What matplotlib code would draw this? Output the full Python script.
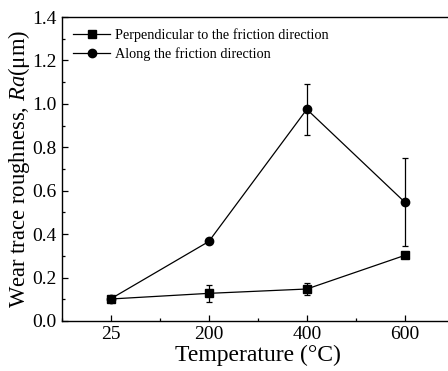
import matplotlib
matplotlib.use("Agg")
import matplotlib.pyplot as plt
from matplotlib.lines import Line2D
from matplotlib.ticker import MultipleLocator, AutoMinorLocator

plt.rcParams['font.family'] = ['Liberation Serif', 'DejaVu Serif']
plt.rcParams['mathtext.fontset'] = 'custom'
plt.rcParams['mathtext.rm'] = 'Liberation Serif'
plt.rcParams['mathtext.it'] = 'Liberation Serif:italic'

temps = ['25', '200', '400', '600']
perp = [0.101, 0.127, 0.147, 0.302]
perp_err = [0.0, 0.038, 0.027, 0.0]
along = [0.102, 0.366, 0.975, 0.547]
along_err = [0.0, 0.0, 0.118, 0.204]

x = range(1, len(temps) + 1)

fig = plt.figure(figsize=(4.48, 3.71), dpi=100)
ax = fig.add_axes([0.138, 0.135, 0.875, 0.819])

style = dict(color='black', lw=0.9, elinewidth=0.9, capsize=2.5, capthick=0.9)
ax.errorbar(x, perp, yerr=perp_err, marker='s', ms=5.3, **style)
ax.errorbar(x, along, yerr=along_err, marker='o', ms=6, **style)

ax.set_xlim(0.5, 4.5)
ax.set_ylim(0, 1.4)
ax.set_xticks(list(x))
ax.set_xticklabels(temps)
ax.xaxis.set_minor_locator(MultipleLocator(0.5))
ax.yaxis.set_major_locator(MultipleLocator(0.2))
ax.yaxis.set_minor_locator(AutoMinorLocator(2))
ax.tick_params(which='both', direction='in', labelsize=14, width=0.9)
ax.tick_params(which='major', length=4, pad=4)
ax.tick_params(which='minor', length=2.5)
for s in ax.spines.values():
    s.set_linewidth(1.0)

ax.set_xlabel('Temperature (°C)', fontsize=17, labelpad=1)
ax.set_ylabel('Wear trace roughness, $Ra$(μm)', fontsize=16.3, labelpad=0)

# legend entries without the error bar glyphs
handles = [Line2D([], [], color='black', lw=0.9, marker='s', ms=5.3),
           Line2D([], [], color='black', lw=0.9, marker='o', ms=6)]
labels = ['Perpendicular to the friction direction',
          'Along the friction direction']
ax.legend(handles, labels, loc='upper left', frameon=False, fontsize=10.3,
          handlelength=2.6, handletextpad=0.3, labelspacing=0.35,
          borderaxespad=0.4)

fig.savefig('out.png', dpi=100)
